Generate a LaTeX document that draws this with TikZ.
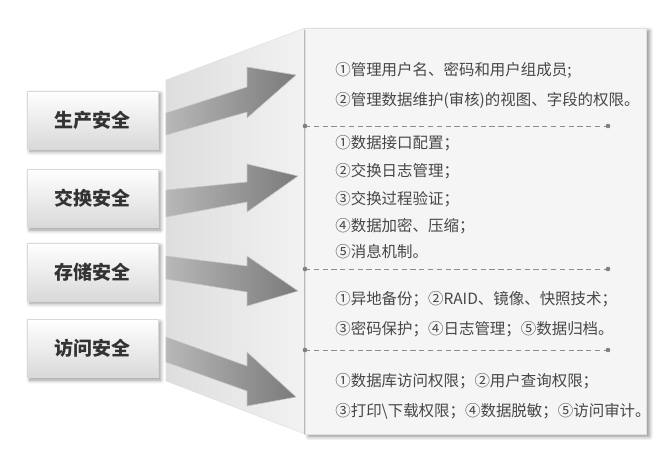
\documentclass[tikz,border=0pt]{standalone}
\usepackage{fontspec}
\setmainfont{Noto Sans CJK SC}
\usetikzlibrary{shadows.blur}

\begin{document}
\begin{tikzpicture}[
  x=0.02cm, y=-0.02cm,
  topic box/.style={draw=black!15, top color=white, bottom color=black!15,
    minimum width=2.62cm, minimum height=1.16cm, text=black!80,
    font=\fontsize{10.8}{13}\selectfont\bfseries,
    blur shadow={shadow xshift=1.5pt, shadow yshift=-1.5pt, shadow blur steps=6}},
  item/.style={anchor=west, inner sep=0pt, text=black!72,
    font=\fontsize{8.8}{10}\selectfont},
  sep line/.style={densely dashed, draw=black!45, line width=0.4pt},
  sep dot/.style={fill=black!50},
  arrow body/.style={left color=black!28, right color=black!52, draw=black!22, line width=0.3pt}
]
\useasboundingbox (0,0) rectangle (666,458);

% side face and front panel
\shade[left color=black!13, right color=black!5, draw=black!12, line width=0.3pt]
  (166,80) -- (305,28) -- (305,434) -- (166,381) -- cycle;
\path[fill=black!4, draw=black!12, line width=0.3pt,
  blur shadow={shadow xshift=2pt, shadow yshift=-1.5pt, shadow opacity=45, shadow blur steps=6}]
  (305,28) rectangle (646,434);

% arrows
\shade[arrow body] (166,113) -- (247,87) -- (247,67) -- (296,75) -- (247,118) -- (247,112) -- (166,135) -- cycle;
\shade[arrow body] (166,190) -- (247,182) -- (247,164) -- (298,176) -- (247,212) -- (247,202) -- (166,217) -- cycle;
\shade[arrow body] (166,256) -- (247,266) -- (247,256) -- (298,291) -- (247,306) -- (247,292) -- (166,279) -- cycle;
\shade[arrow body] (166,337) -- (247,366) -- (247,352) -- (296,397) -- (247,406) -- (247,391) -- (166,362) -- cycle;

% topics
\foreach \y/\t [count=\i] in {120/生产安全, 198.5/交换安全, 272/存储安全, 348.5/访问安全}
  \node[topic box] (topic\i) at (92.5,\y) {\t};

% separators
\foreach \y [count=\i] in {126, 269, 350} {
  \coordinate (sepL\i) at (305,\y);
  \coordinate (sepR\i) at (608,\y);
  \draw[sep line] (sepL\i) -- (sepR\i);
  \fill[sep dot] (sepL\i) circle (1.3pt) (sepR\i) circle (1.3pt);
}

% items
\foreach \y/\t [count=\i] in {
  70/{①管理用户名、密码和用户组成员;},
  100/{②管理数据维护(审核)的视图、字段的权限。},
  143/{①数据接口配置；},
  171/{②交换日志管理；},
  199/{③交换过程验证；},
  226/{④数据加密、压缩；},
  252/{⑤消息机制。},
  299/{①异地备份；②RAID、镜像、快照技术；},
  329/{③密码保护；④日志管理；⑤数据归档。},
  381/{①数据库访问权限；②用户查询权限；},
  411/{③打印\textbackslash 下载权限；④数据脱敏；⑤访问审计。}}
  \node[item] (line\i) at (335,\y) {\t};
\end{tikzpicture}
\end{document}
